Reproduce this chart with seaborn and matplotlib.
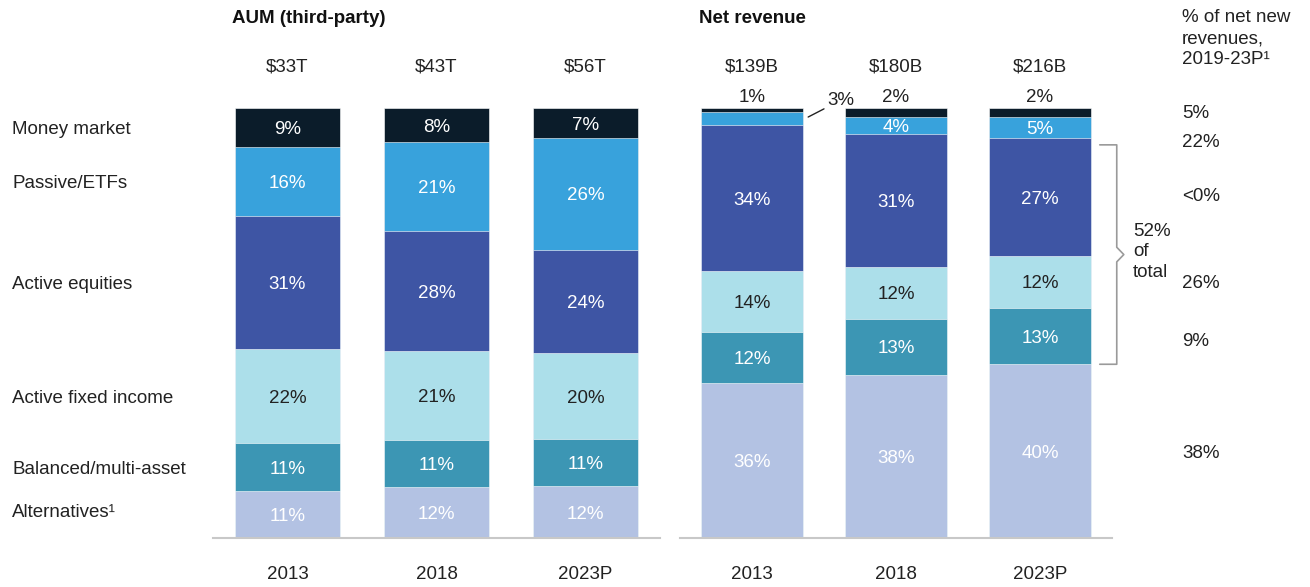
import matplotlib
matplotlib.use("Agg")
import matplotlib.pyplot as plt
import matplotlib.transforms as mtransforms
import numpy as np
import pandas as pd
import seaborn as sns

# ---------------- data ----------------
categories = ["Alternatives", "Balanced/multi-asset", "Active fixed income",
              "Active equities", "Passive/ETFs", "Money market"]  # bottom -> top
category_labels = ["Alternatives\u00b9", "Balanced/multi-asset", "Active fixed income",
                   "Active equities", "Passive/ETFs", "Money market"]
years = ["2013", "2018", "2023P"]

aum_2013 = [11, 11, 22, 31, 16, 9]
aum_2018 = [12, 11, 21, 28, 21, 8]
aum_2023 = [12, 11, 20, 24, 26, 7]
aum_totals = ["$33T", "$43T", "$56T"]

rev_2013 = [36, 12, 14, 34, 3, 1]
rev_2018 = [38, 13, 12, 31, 4, 2]
rev_2023 = [40, 13, 12, 27, 5, 2]
rev_totals = ["$139B", "$180B", "$216B"]

net_new_share = ["38%", "9%", "26%", "<0%", "22%", "5%"]  # bottom -> top
bracket_text = "52%\nof\ntotal"

colors = ["#b3c2e3", "#3c96b4", "#acdfea", "#3e55a4", "#38a2dc", "#0b1c2a"]
text_colors = ["white", "white", "#222222", "white", "white", "white"]

# ---------------- style ----------------
sns.set_style("white")
plt.rcParams["font.family"] = ["Liberation Sans", "DejaVu Sans"]
FS = 13.5
DARK = "#222222"
VA = "center_baseline"

W, H = 1310, 587
fig = plt.figure(figsize=(W / 100, H / 100), dpi=100)
axL = fig.add_axes([213 / W, 49 / H, 447 / W, 430 / H])
axR = fig.add_axes([680 / W, 49 / H, 432 / W, 430 / H])


def build(vals_by_year):
    rows = []
    for y, vals in zip(years, vals_by_year):
        vals = np.asarray(vals, dtype=float)
        shares = vals / vals.sum() * 100  # each bar is drawn as 100%
        cum = np.cumsum(shares)
        for c, v, s, cu in zip(categories, vals, shares, cum):
            rows.append(dict(year=y, category=c, value=int(v), share=s, cum=cu))
    return pd.DataFrame(rows)


dfL = build([aum_2013, aum_2018, aum_2023])
dfR = build([rev_2013, rev_2018, rev_2023])

BW = 0.71
for ax, df in [(axL, dfL), (axR, dfR)]:
    for c, col in reversed(list(zip(categories, colors))):
        sns.barplot(data=df[df.category == c], x="year", y="cum", order=years,
                    color=col, saturation=1, width=BW, ax=ax,
                    edgecolor="white", linewidth=0.4, errorbar=None)
    ax.set_ylim(0, 100)
    ax.set_xlim(-0.5, 2.5)
    ax.set_xlabel("")
    ax.set_ylabel("")
    ax.set_yticks([])
    for s in ["top", "left", "right"]:
        ax.spines[s].set_visible(False)
    ax.spines["bottom"].set_color("#c8c8c8")
    ax.spines["bottom"].set_linewidth(1.5)
    ax.tick_params(axis="x", length=0, pad=20, labelsize=FS, labelcolor=DARK)
    for b in ax.patches:
        b.set_clip_on(False)

# ---------------- in-bar labels ----------------
for ax, df, is_rev in [(axL, dfL, False), (axR, dfR, True)]:
    for i, y in enumerate(years):
        sub = df[df.year == y]
        for c, tc in zip(categories, text_colors):
            r = sub[sub.category == c].iloc[0]
            center = r.cum - r.share / 2
            label = f"{r.value}%"
            if is_rev and c == "Money market":
                ax.text(i, 103, label, ha="center", va=VA, fontsize=FS, color=DARK)
                continue
            if is_rev and c == "Passive/ETFs" and y == "2013":
                ax.plot([0.39, 0.5], [97.9, 99.8], color=DARK, lw=1, clip_on=False)
                ax.text(0.62, 102.3, label, ha="center", va=VA, fontsize=FS, color=DARK)
                continue
            ax.text(i, center, label, ha="center", va=VA, fontsize=FS, color=tc)

# ---------------- totals & headers ----------------
for ax, totals, title in [(axL, aum_totals, "AUM (third-party)"), (axR, rev_totals, "Net revenue")]:
    tr = mtransforms.blended_transform_factory(ax.transData, ax.transAxes)
    for i, t in enumerate(totals):
        ax.text(i, 1.1, t, transform=tr, ha="center", va=VA, fontsize=FS, color=DARK)
    ax.text(-0.37, 1.212, title, transform=tr, ha="left", va=VA,
            fontsize=FS, fontweight="bold", color="#111111")

# ---------------- left category labels (centered on 2013 AUM segments) ----------------
trL = mtransforms.blended_transform_factory(fig.transFigure, axL.transData)
sub13 = dfL[dfL.year == years[0]]
for lab, (_, r) in zip(category_labels, sub13.iterrows()):
    ax_y = r.cum - r.share / 2
    if lab.startswith("Alternatives"):
        ax_y += 1.0
    axL.text(12 / W, ax_y, lab, transform=trL, ha="left", va=VA,
             fontsize=FS, color=DARK)

# ---------------- right column ----------------
trR = mtransforms.blended_transform_factory(fig.transFigure, axR.transData)
sub23 = dfR[dfR.year == years[2]]
nudges = [0, -0.8, 0, 0.5, -3.0, 0.3]
for lab, (_, r), n in zip(net_new_share, sub23.iterrows(), nudges):
    axR.text(1182 / W, r.cum - r.share / 2 + n, lab, transform=trR, ha="left", va=VA,
             fontsize=FS, color=DARK)

fig.text(1182 / W, 1 - 9 / H, "% of net new\nrevenues,\n2019-23P\u00b9", ha="left", va="top",
         fontsize=FS, color=DARK, linespacing=1.32)

# bracket spanning balanced + fixed income + active equities of 2023P revenue
cum23 = sub23.cum.to_numpy()
b_bot = cum23[0]
b_top = cum23[3] - 1.5
mid = (b_bot + b_top) / 2
bx0, bx1, bx2 = 2.415, 2.533, 2.582
axR.plot([bx0, bx1, bx1, bx2, bx1, bx1, bx0],
         [b_top, b_top, mid + 1.7, mid, mid - 1.7, b_bot, b_bot],
         color="#9a9a9a", lw=1.2, clip_on=False)
axR.text(1133 / W, mid + 0.6, bracket_text, transform=trR, ha="left", va="center",
         fontsize=FS, color=DARK, linespacing=1.3)

fig.savefig("out.png", dpi=100)
